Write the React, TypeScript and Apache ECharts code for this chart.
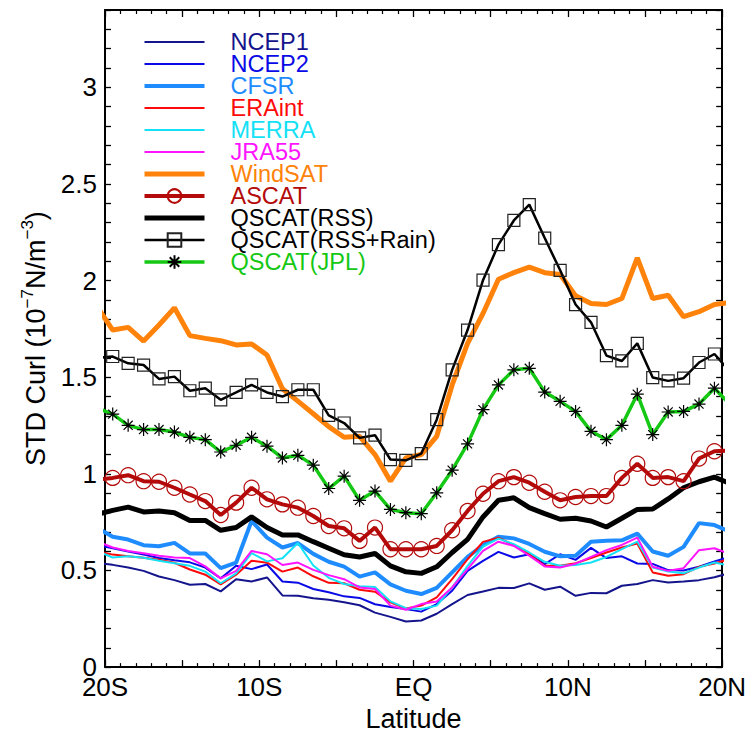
import React, { useEffect, useRef } from 'react';
import * as echarts from 'echarts';

const latitudes = [
  -20.5, -19.5, -18.5, -17.5, -16.5, -15.5, -14.5, -13.5, -12.5, -11.5, -10.5,
  -9.5, -8.5, -7.5, -6.5, -5.5, -4.5, -3.5, -2.5, -1.5, -0.5,
  0.5, 1.5, 2.5, 3.5, 4.5, 5.5, 6.5, 7.5, 8.5, 9.5,
  10.5, 11.5, 12.5, 13.5, 14.5, 15.5, 16.5, 17.5, 18.5, 19.5, 20.5,
];

const ncep1 = [0.54, 0.529, 0.515, 0.498, 0.469, 0.45, 0.426, 0.43, 0.392, 0.455, 0.443, 0.464, 0.371, 0.369, 0.356, 0.348, 0.335, 0.32, 0.282, 0.26, 0.236,
  0.241, 0.276, 0.326, 0.373, 0.391, 0.41, 0.409, 0.433, 0.4, 0.416, 0.369, 0.384, 0.382, 0.421, 0.43, 0.45, 0.438, 0.443, 0.45, 0.465, 0.487];
const ncep2 = [0.63, 0.615, 0.598, 0.582, 0.565, 0.553, 0.542, 0.515, 0.459, 0.524, 0.507, 0.531, 0.443, 0.437, 0.404, 0.387, 0.366, 0.358, 0.325, 0.311, 0.3,
  0.287, 0.326, 0.395, 0.498, 0.55, 0.596, 0.567, 0.584, 0.533, 0.584, 0.555, 0.617, 0.564, 0.573, 0.536, 0.534, 0.502, 0.5, 0.52, 0.547, 0.57];
const cfsr = [0.72, 0.674, 0.66, 0.631, 0.625, 0.643, 0.588, 0.588, 0.512, 0.541, 0.756, 0.67, 0.619, 0.642, 0.586, 0.545, 0.52, 0.468, 0.49, 0.428, 0.395,
  0.378, 0.41, 0.49, 0.57, 0.63, 0.675, 0.666, 0.637, 0.597, 0.573, 0.576, 0.649, 0.654, 0.656, 0.691, 0.598, 0.576, 0.622, 0.745, 0.735, 0.7];
const eraint = [0.6, 0.582, 0.574, 0.566, 0.555, 0.54, 0.505, 0.478, 0.428, 0.478, 0.55, 0.54, 0.494, 0.515, 0.47, 0.436, 0.434, 0.4, 0.39, 0.335, 0.303,
  0.318, 0.361, 0.455, 0.558, 0.648, 0.67, 0.631, 0.584, 0.524, 0.524, 0.537, 0.564, 0.593, 0.619, 0.639, 0.49, 0.473, 0.481, 0.519, 0.536, 0.56];
const merra = [0.6, 0.567, 0.573, 0.566, 0.55, 0.537, 0.524, 0.494, 0.434, 0.485, 0.59, 0.547, 0.563, 0.642, 0.526, 0.462, 0.43, 0.418, 0.414, 0.34, 0.305,
  0.301, 0.318, 0.412, 0.524, 0.624, 0.665, 0.636, 0.593, 0.545, 0.524, 0.528, 0.541, 0.57, 0.61, 0.649, 0.515, 0.495, 0.485, 0.515, 0.541, 0.525];
const jra55 = [0.65, 0.619, 0.601, 0.589, 0.576, 0.567, 0.564, 0.521, 0.459, 0.498, 0.601, 0.584, 0.528, 0.541, 0.503, 0.476, 0.455, 0.412, 0.404, 0.318, 0.297,
  0.326, 0.339, 0.412, 0.507, 0.601, 0.649, 0.627, 0.576, 0.521, 0.515, 0.535, 0.57, 0.605, 0.632, 0.67, 0.519, 0.498, 0.512, 0.605, 0.615, 0.585];
const windsat = [1.864, 1.744, 1.758, 1.687, 1.77, 1.859, 1.715, 1.701, 1.689, 1.667, 1.672, 1.615, 1.44, 1.376, 1.311, 1.244, 1.189, 1.194, 1.1, 0.962, 1.082,
  1.1, 1.194, 1.46, 1.675, 1.83, 2.007, 2.041, 2.07, 2.041, 2.031, 1.921, 1.881, 1.876, 1.907, 2.117, 1.907, 1.924, 1.813, 1.839, 1.876, 1.886];
const ascat = [0.97, 0.979, 0.993, 0.962, 0.959, 0.928, 0.893, 0.859, 0.787, 0.851, 0.928, 0.868, 0.842, 0.825, 0.782, 0.73, 0.718, 0.653, 0.722, 0.61, 0.61,
  0.61, 0.627, 0.708, 0.808, 0.897, 0.962, 0.983, 0.954, 0.907, 0.863, 0.88, 0.885, 0.885, 0.979, 1.052, 0.979, 0.983, 0.962, 1.079, 1.117, 1.12];
const qscatRss = [0.79, 0.811, 0.828, 0.803, 0.808, 0.799, 0.759, 0.759, 0.708, 0.722, 0.777, 0.722, 0.684, 0.684, 0.649, 0.615, 0.581, 0.57, 0.588, 0.524, 0.493,
  0.485, 0.519, 0.593, 0.661, 0.777, 0.863, 0.876, 0.825, 0.794, 0.765, 0.77, 0.756, 0.725, 0.77, 0.816, 0.818, 0.87, 0.928, 0.959, 0.983, 0.95];
const qscatRain = [1.6, 1.607, 1.572, 1.563, 1.491, 1.503, 1.43, 1.443, 1.383, 1.421, 1.46, 1.421, 1.4, 1.435, 1.435, 1.302, 1.263, 1.186, 1.2, 1.074, 1.07,
  1.105, 1.28, 1.538, 1.744, 2.002, 2.186, 2.311, 2.393, 2.22, 2.053, 1.876, 1.784, 1.612, 1.584, 1.675, 1.498, 1.481, 1.495, 1.576, 1.62, 1.53];
const qscatJpl = [1.34, 1.309, 1.251, 1.229, 1.229, 1.216, 1.189, 1.177, 1.113, 1.148, 1.189, 1.143, 1.082, 1.096, 1.045, 0.924, 0.988, 0.863, 0.911, 0.816, 0.799,
  0.794, 0.902, 1.019, 1.155, 1.332, 1.46, 1.538, 1.546, 1.423, 1.375, 1.323, 1.22, 1.177, 1.251, 1.412, 1.203, 1.32, 1.323, 1.361, 1.443, 1.36];

const xTickValues = [-20, -10, 0, 10, 20];
const xTickLabels = ['20S', '10S', 'EQ', '10N', '20N'];

const FONT = '"Liberation Sans", Arial, Helvetica, sans-serif';
const ASTERISK = 'path://M10,0L10,20M0,10L20,10M3,3L17,17M3,17L17,3';

type Spec = {
  name: string; values: number[]; color: string; width: number;
  symbol?: string; symbolSize?: number; symbolColor?: string;
};

const specs: Spec[] = [
  { name: 'NCEP1', values: ncep1, color: '#14148c', width: 2 },
  { name: 'NCEP2', values: ncep2, color: '#0a0ae6', width: 2 },
  { name: 'CFSR', values: cfsr, color: '#1e8cff', width: 4 },
  { name: 'ERAint', values: eraint, color: '#ff0a0a', width: 2 },
  { name: 'MERRA', values: merra, color: '#14e1f5', width: 2 },
  { name: 'JRA55', values: jra55, color: '#ff14ff', width: 2 },
  { name: 'WindSAT', values: windsat, color: '#ff820a', width: 5 },
  { name: 'ASCAT', values: ascat, color: '#b40a0a', width: 4, symbol: 'circle', symbolSize: 15, symbolColor: '#b40a0a' },
  { name: 'QSCAT(RSS)', values: qscatRss, color: '#000000', width: 5 },
  { name: 'QSCAT(RSS+Rain)', values: qscatRain, color: '#000000', width: 2.5, symbol: 'rect', symbolSize: 12, symbolColor: '#222' },
  { name: 'QSCAT(JPL)', values: qscatJpl, color: '#14c814', width: 3.5, symbol: ASTERISK, symbolSize: 13, symbolColor: '#000' },
];

export default function App() {
  const ref = useRef<HTMLDivElement>(null);
  useEffect(() => {
    if (!ref.current) return;
    const chart = echarts.init(ref.current, undefined, { renderer: 'svg' });
    const axisLine = { show: true, onZero: false, lineStyle: { color: '#000', width: 2 } };
    const xTick = { show: true, inside: true, length: 7, lineStyle: { color: '#000', width: 1.3 } };
    const xMinor = { show: true, splitNumber: 5, length: 4, lineStyle: { color: '#000', width: 1.2 } };
    const yTick = { show: true, inside: true, length: 6, lineStyle: { color: '#000', width: 1.3 } };
    const labelStyle = { color: '#000', fontSize: 26, fontFamily: FONT, lineHeight: 20 };

    const series = specs.map((s) => ({
      name: s.name,
      type: 'line',
      data: latitudes.map((lat, i) => [lat, s.values[i]]),
      symbol: s.symbol ?? 'none',
      symbolSize: s.symbolSize ?? 0,
      showSymbol: !!s.symbol,
      clip: true,
      silent: true,
      lineStyle: { color: s.color, width: s.width },
      itemStyle: s.symbol
        ? {
            color: s.symbol === ASTERISK ? '#000' : 'rgba(255,255,255,0)',
            borderColor: s.symbolColor ?? s.color,
            borderWidth: 1.2,
          }
        : { color: 'rgba(0,0,0,0)', borderColor: 'rgba(0,0,0,0)', borderWidth: 0 },
      emphasis: { disabled: true },
      z: 2,
    }));

    chart.setOption({
      animation: false,
      backgroundColor: '#ffffff',
      grid: { left: 105, right: 26, top: 10, bottom: 67, containLabel: false },
      legend: {
        orient: 'vertical',
        left: 137,
        top: 25,
        itemWidth: 60,
        itemHeight: 17,
        itemGap: -2,
        selectedMode: false,
        data: specs.map((s) => ({
          name: s.name,
          lineStyle: { color: s.color, width: s.width },
          textStyle: { color: s.color === '#000000' ? '#000' : s.color },
        })),
        textStyle: { fontSize: 23.5, fontFamily: FONT, lineHeight: 22, padding: [0, 0, 0, 21] },
      },
      xAxis: [
        {
          type: 'value', position: 'bottom', min: -20, max: 20, interval: 5,
          axisLine, axisTick: xTick, minorTick: xMinor, splitLine: { show: false },
          axisLabel: {
            ...labelStyle, margin: 10,
            formatter: (v: number) => {
              const k = xTickValues.indexOf(Math.round(v));
              return k >= 0 && Math.abs(v - Math.round(v)) < 1e-6 ? xTickLabels[k] : '';
            },
          },
          name: 'Latitude', nameLocation: 'middle', nameGap: 37,
          nameTextStyle: { color: '#000', fontSize: 27, fontFamily: FONT },
        },
        {
          type: 'value', position: 'top', min: -20, max: 20, interval: 5,
          axisLine, axisTick: xTick, minorTick: xMinor, splitLine: { show: false },
          axisLabel: { show: false },
        },
      ],
      yAxis: [
        {
          type: 'value', position: 'left', min: 0, max: 3.4, interval: 0.1,
          axisLine, axisTick: yTick, splitLine: { show: false },
          axisLabel: {
            ...labelStyle, margin: 8,
            formatter: (v: number) => {
              const h = v * 2;
              return Math.abs(h - Math.round(h)) < 1e-6 ? String(Math.round(h) / 2) : '';
            },
          },
          name: '{a|STD Curl (10}{s|−7}{a|N/m}{s|−3}{a|)}',
          nameLocation: 'middle', nameGap: 46,
          nameTextStyle: {
            rich: {
              a: { fontSize: 27, fontFamily: FONT, color: '#000', lineHeight: 31, verticalAlign: 'bottom' },
              s: { fontSize: 17, fontFamily: FONT, color: '#000', lineHeight: 31, verticalAlign: 'top' },
            },
          },
        },
        {
          type: 'value', position: 'right', min: 0, max: 3.4, interval: 0.1,
          axisLine, axisTick: yTick, splitLine: { show: false },
          axisLabel: { show: false },
        },
      ],
      series,
    });
    return () => chart.dispose();
  }, []);
  return (
    <div
      ref={ref}
      style={{ position: 'fixed', left: 0, top: 0, width: 749, height: 737, background: '#fff' }}
    />
  );
}
